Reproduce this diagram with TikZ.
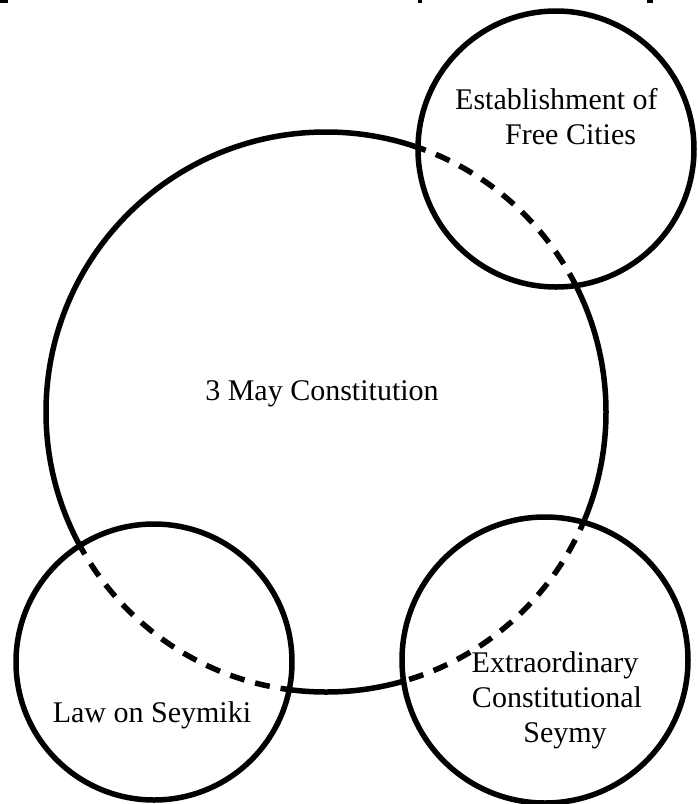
\documentclass[tikz,border=0pt]{standalone}
\usepackage{fontspec}
\setmainfont{Liberation Serif}
\begin{document}
\begin{tikzpicture}[x=1pt,y=-1pt,
  ring/.style={line width=5.5pt},
  dashring/.style={line width=5.5pt, dash pattern=on 15pt off 11pt},
  lbl/.style={inner sep=0pt, font=\fontsize{30}{35}\selectfont, anchor=base},
]
\useasboundingbox (0,0) rectangle (697,804);

% centres of the four rings
\coordinate (cBig) at (326,412);
\coordinate (cCity) at (556,149);
\coordinate (cLaw) at (154,662);
\coordinate (cSeym) at (545,660);

% big ring: solid where it lies outside the small rings
\begin{scope}[even odd rule]
  \clip (-20,-20) rectangle (720,830)
    (cCity) circle[radius=138pt] (cLaw) circle[radius=138pt] (cSeym) circle[radius=143pt];
  \draw[ring] (cBig) circle[radius=280pt];
\end{scope}

% big ring: dashed where it passes through the small rings
\begin{scope}
  \clip (cCity) circle[radius=138pt] (cLaw) circle[radius=138pt] (cSeym) circle[radius=143pt];
  \draw[dashring] (cBig) circle[radius=280pt];
\end{scope}

% the three small rings
\draw[ring] (cCity) circle[radius=138pt];
\draw[ring] (cLaw) circle[radius=138pt];
\draw[ring] (cSeym) circle[radius=143pt];

% small marks along the top edge
\fill (0,0) rectangle (8,3);
\fill (418,0) rectangle (422,3);
\fill (647,0) rectangle (653,3);

% labels
\node[lbl, anchor=base west] (est1) at (455,109) {Establishment of};
\node[lbl, anchor=base west] (est2) at (505,144) {Free Cities};
\node[lbl] (may) at (322,400) {3 May Constitution};
\node[lbl] (law) at (152,722) {Law on Seymiki};
\node[lbl] (ext1) at (555,672) {Extraordinary};
\node[lbl] (ext2) at (557,707) {Constitutional};
\node[lbl] (ext3) at (565,742) {Seymy};
\end{tikzpicture}
\end{document}
